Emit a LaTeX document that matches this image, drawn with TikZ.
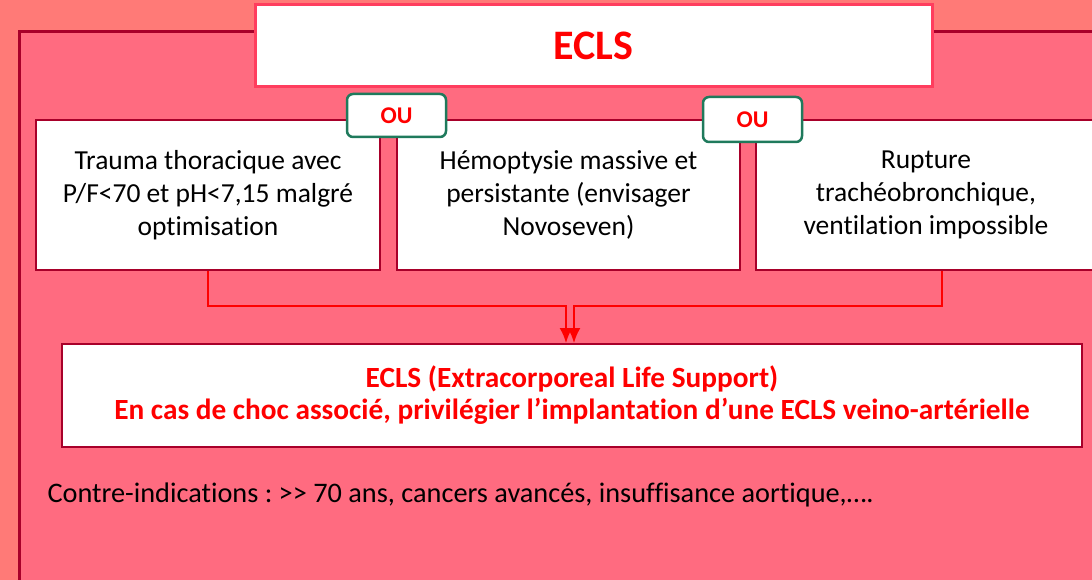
\documentclass[tikz,border=0pt]{standalone}
\usepackage{fontspec}
\setmainfont{Carlito}[Ligatures=NoCommon]
\usetikzlibrary{arrows.meta}
\definecolor{bgouter}{HTML}{FF7A77}
\definecolor{bginner}{HTML}{FF6B80}
\definecolor{darkred}{HTML}{A8002A}
\definecolor{titlered}{HTML}{FF3D5E}
\definecolor{ougreen}{HTML}{1F7A5C}
\frenchspacing
\tikzset{
  critbox/.style={draw=darkred, line width=2pt, fill=white, minimum height=150pt,
    align=center, font=\fontsize{27.5}{33}\selectfont},
  oubox/.style={draw=ougreen, line width=2.5pt, fill=white, rounded corners=6pt,
    minimum width=99pt, text=red, font=\fontsize{24}{28}\selectfont\bfseries},
  link/.style={red, line width=2pt}
}
\begin{document}
\begin{tikzpicture}[>={Latex[length=15pt,width=13pt]}, x=1pt, y=-1pt]
\useasboundingbox (0,0) rectangle (1092,580);
\fill[bgouter] (0,0) rectangle (1092,580);
\draw[fill=bginner, draw=darkred, line width=3pt] (19,32) rectangle (1110,600);
% titre
\node[draw=titlered, line width=3pt, fill=white, minimum width=677pt, minimum height=82pt,
  text=red, font=\fontsize{42}{48}\selectfont\bfseries] (ecls) at (593.5,46) {ECLS};
% les trois criteres
\node[critbox, minimum width=344pt] (trauma) at (208,195)
  {Trauma thoracique avec\\P/F<70 et pH<7,15 malgré\\optimisation};
\node[critbox, minimum width=343pt] (hemo) at (568.5,195)
  {Hémoptysie massive et\\persistante (envisager\\Novoseven)};
\node[critbox, minimum width=340pt] (rupt) at (926,195)
  {Rupture\\trachéobronchique,\\ventilation impossible};
\node[oubox, minimum height=43pt] (ou1) at (396.5,115.5) {OU};
\node[oubox, minimum height=45pt] (ou2) at (752.5,119.5) {OU};
% decision
\node[draw=darkred, line width=2pt, fill=white, minimum width=1020pt, minimum height=103pt,
  align=center, text=red, font=\fontsize{29.3}{32}\selectfont\bfseries] (ecmo) at (572,395.5)
  {ECLS (Extracorporeal Life Support)\\En cas de choc associé, privilégier l’implantation d’une ECLS veino-artérielle};
\coordinate (jl) at (566,306);
\coordinate (jr) at (574,306);
\draw[link, ->] (trauma.south) |- (jl) -- (jl |- ecmo.north);
\draw[link, ->] (rupt.south -| 942,0) |- (jr) -- (jr |- ecmo.north);
\node[anchor=west, font=\fontsize{28.3}{32}\selectfont] (contre) at (44,495)
  {Contre-indications : >{}> 70 ans, cancers avancés, insuffisance aortique,….};
\end{tikzpicture}
\end{document}
